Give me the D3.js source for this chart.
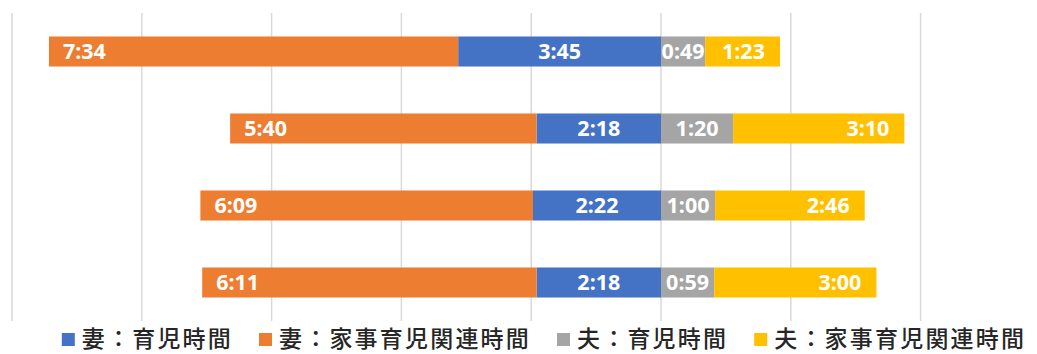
<!DOCTYPE html>
<html>
<head>
<meta charset="utf-8">
<script src="https://cdn.jsdelivr.net/npm/d3@7"></script>
<style>
  html, body { margin: 0; padding: 0; background: #fff; }
  svg { display: block; }
</style>
</head>
<body>
<svg id="chart" width="1037" height="354"></svg>
<script>
// Rows, top to bottom
const categories = ["区分1", "区分2", "区分3", "区分4"];

// Series names (legend order)
const seriesNames = ["妻：育児時間", "妻：家事育児関連時間", "夫：育児時間", "夫：家事育児関連時間"];
const seriesColors = ["#4472C4", "#ED7D31", "#A5A5A5", "#FFC000"];

// Time values as H:MM, one per row
const wifeChildcare   = ["3:45", "2:18", "2:22", "2:18"];
const wifeHousework   = ["7:34", "5:40", "6:09", "6:11"];
const husbandChildcare = ["0:49", "1:20", "1:00", "0:59"];
const husbandHousework = ["1:23", "3:10", "2:46", "3:00"];

// Gridlines every 0.1 day (2:24)
const gridTicks = [-0.5, -0.4, -0.3, -0.2, -0.1, 0, 0.1, 0.2];

const toDays = s => { const [h, m] = s.split(":").map(Number); return (h * 60 + m) / 1440; };

const svg = d3.select("#chart");

const x = d3.scaleLinear().domain([-0.5, 0.2]).range([12, 920.6]);
const y = d3.scaleBand().domain(categories).range([13, 321]).paddingInner(0.61).paddingOuter(0.305);

// Gridlines
svg.append("g")
  .selectAll("line")
  .data(gridTicks)
  .join("line")
  .attr("x1", d => x(d)).attr("x2", d => x(d))
  .attr("y1", 13).attr("y2", 321)
  .attr("stroke", "#D9D9D9")
  .attr("stroke-width", 1.5);

// Build segments: wife's bars grow left from zero, husband's grow right
const segments = [];
categories.forEach((c, i) => {
  const wc = toDays(wifeChildcare[i]);
  const wh = toDays(wifeHousework[i]);
  const hc = toDays(husbandChildcare[i]);
  const hh = toDays(husbandHousework[i]);
  segments.push({ cat: c, s: 0, x0: -wc, x1: 0, label: wifeChildcare[i], pos: "center" });
  segments.push({ cat: c, s: 1, x0: -wc - wh, x1: -wc, label: wifeHousework[i], pos: "left" });
  segments.push({ cat: c, s: 2, x0: 0, x1: hc, label: husbandChildcare[i], pos: "center" });
  segments.push({ cat: c, s: 3, x0: hc, x1: hc + hh, label: husbandHousework[i], pos: "right" });
});

const bars = svg.append("g");
bars.selectAll("rect")
  .data(segments)
  .join("rect")
  .attr("x", d => x(d.x0))
  .attr("width", d => x(d.x1) - x(d.x0))
  .attr("y", d => y(d.cat))
  .attr("height", y.bandwidth())
  .attr("fill", d => seriesColors[d.s]);

// Value labels
bars.selectAll("text")
  .data(segments)
  .join("text")
  .attr("x", d => d.pos === "left" ? x(d.x0) + 14 : d.pos === "right" ? x(d.x1) - 15 : (x(d.x0) + x(d.x1)) / 2)
  .attr("y", d => y(d.cat) + y.bandwidth() / 2 + 7.5)
  .attr("text-anchor", d => d.pos === "left" ? "start" : d.pos === "right" ? "end" : "middle")
  .attr("font-family", "'Noto Sans', 'Open Sans', sans-serif")
  .attr("font-weight", "bold")
  .attr("font-size", 21.5)
  .attr("fill", "#FFFFFF")
  .text(d => d.label);

// Legend
const legend = svg.append("g");
const items = legend.selectAll("g")
  .data(seriesNames)
  .join("g");
items.append("rect")
  .attr("width", 13).attr("height", 13)
  .attr("y", 333)
  .attr("fill", (d, i) => seriesColors[i]);
items.append("text")
  .attr("x", 20)
  .attr("y", 347)
  .attr("font-family", "'Noto Sans CJK JP', sans-serif")
  .attr("font-size", 23)
  .attr("font-weight", 500)
  .attr("letter-spacing", 2.2)
  .attr("fill", "#262626")
  .text(d => d);

let cursor = 0;
const offsets = [];
items.each(function () {
  const w = d3.select(this).select("text").node().getComputedTextLength() + 20;
  offsets.push(cursor);
  cursor += w + 26;
});
const totalWidth = cursor - 26;
const start = 544 - totalWidth / 2;
items.attr("transform", (d, i) => `translate(${start + offsets[i]},0)`);
</script>
</body>
</html>
